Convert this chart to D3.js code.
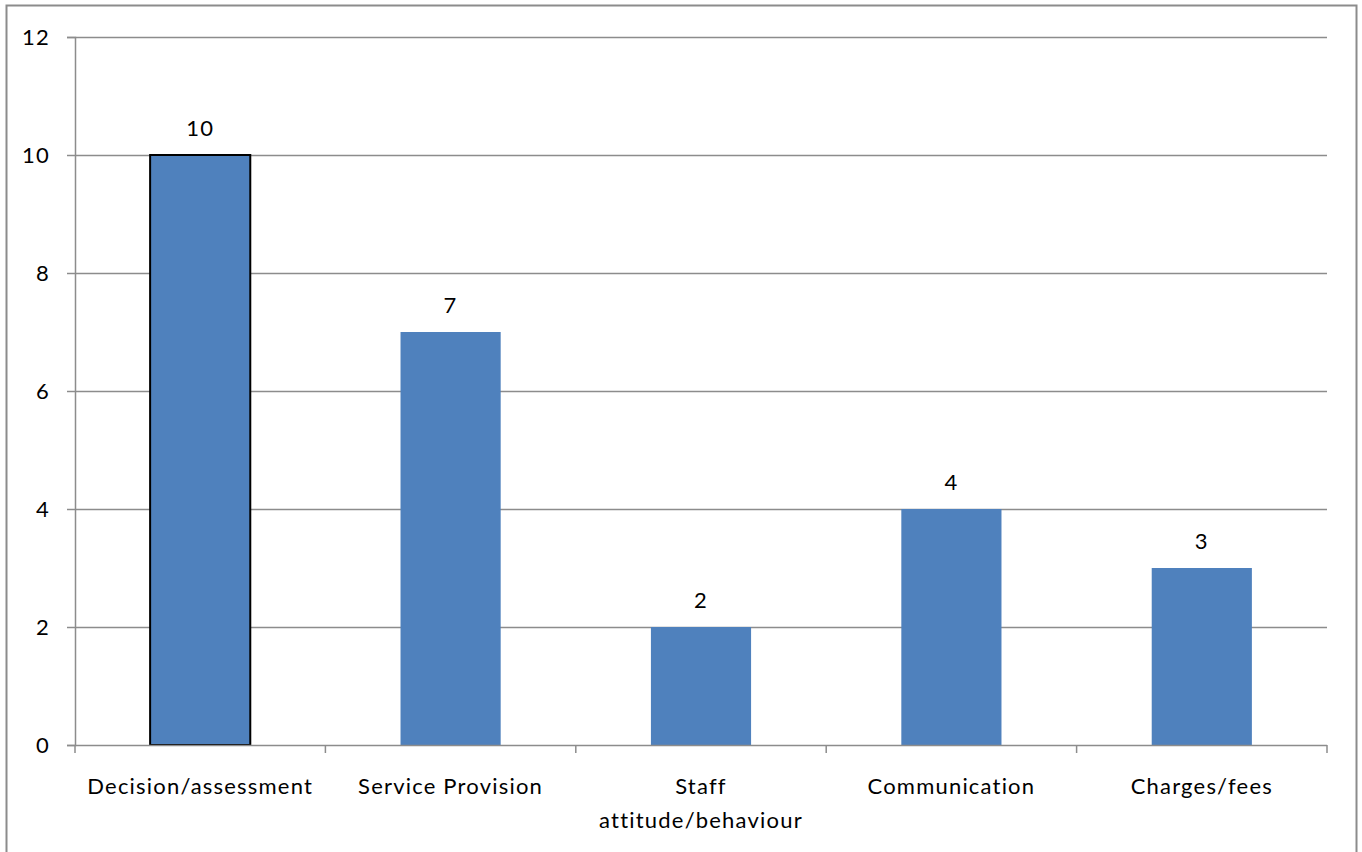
<!DOCTYPE html>
<html><head><meta charset="utf-8">
<script src="https://cdn.jsdelivr.net/npm/d3@7"></script>
<style>
html,body{margin:0;padding:0;background:#fff;overflow:hidden}
text{font-family:Lato,"Open Sans",sans-serif;fill:#000}
</style></head>
<body>
<svg id="chart" width="1362" height="852"></svg>
<script>
const categories = ["Decision/assessment", "Service Provision", "Staff attitude/behaviour", "Communication", "Charges/fees"];
const labelLines = [["Decision/assessment"], ["Service Provision"], ["Staff", "attitude/behaviour"], ["Communication"], ["Charges/fees"]];
const values = [10, 7, 2, 4, 3];
const yTicks = [0, 2, 4, 6, 8, 10, 12];

const svg = d3.select("#chart");
const m = {left: 75, right: 1327, top: 37, bottom: 745};
const FS = "22px", LS = "1.2px";

svg.append("rect").attr("x", 6.5).attr("y", 5.5).attr("width", 1350).attr("height", 900)
  .attr("fill", "#fff").attr("stroke", "#8c8c8c").attr("stroke-width", 2);

const x = d3.scaleBand().domain(categories).range([m.left, m.right]).paddingInner(0.6).paddingOuter(0.3);
const xb = d3.scaleBand().domain(categories).range([m.left, m.right]);
const y = d3.scaleLinear().domain([0, 12]).range([m.bottom, m.top]);

// gridlines
svg.append("g").selectAll("line").data(yTicks.filter(d => d > 0)).join("line")
  .attr("x1", m.left).attr("x2", m.right)
  .attr("y1", d => Math.round(y(d)) + 0.5).attr("y2", d => Math.round(y(d)) + 0.5)
  .attr("stroke", "#8c8c8c").attr("stroke-width", 1.5);

// y axis
const yAxis = svg.append("g").attr("transform", `translate(${m.left},0)`)
  .call(d3.axisLeft(y).tickValues(yTicks).tickSize(8).tickPadding(17).tickFormat(d3.format("d")));
yAxis.select(".domain").attr("stroke", "#8c8c8c").attr("stroke-width", 1.5);
yAxis.selectAll(".tick line").attr("stroke", "#8c8c8c").attr("stroke-width", 1.5);
yAxis.selectAll(".tick text").style("font-family", "Lato,sans-serif").style("font-size", FS)
  .style("letter-spacing", LS).attr("fill", "#000");

// bars
svg.append("g").selectAll("rect").data(values).join("rect")
  .attr("x", (d, i) => x(categories[i]))
  .attr("width", x.bandwidth())
  .attr("y", d => y(d))
  .attr("height", d => y(0) - y(d))
  .attr("fill", "#4F81BD")
  .attr("stroke", (d, i) => i === 0 ? "#000" : "none")
  .attr("stroke-width", 2);

// x axis
const xAxisG = svg.append("g");
xAxisG.append("line").attr("x1", m.left).attr("x2", m.right).attr("y1", m.bottom + 0.5).attr("y2", m.bottom + 0.5)
  .attr("stroke", "#8c8c8c").attr("stroke-width", 1.5);
const bounds = categories.map(c => xb(c)).concat([m.right]);
xAxisG.selectAll("line.t").data(bounds).join("line").attr("class", "t")
  .attr("x1", d => d).attr("x2", d => d).attr("y1", m.bottom).attr("y2", m.bottom + 8)
  .attr("stroke", "#8c8c8c").attr("stroke-width", 1.5);

// category labels
const lg = svg.append("g");
labelLines.forEach((lines, i) => {
  const cx = xb(categories[i]) + xb.bandwidth() / 2;
  const t = lg.append("text").attr("x", cx).attr("y", 794).attr("text-anchor", "middle")
    .style("font-size", FS).style("letter-spacing", LS);
  lines.forEach((ln, j) => t.append("tspan").attr("x", cx).attr("dy", j === 0 ? 0 : 34).text(ln));
});

// value labels
svg.append("g").selectAll("text").data(values).join("text")
  .attr("x", (d, i) => x(categories[i]) + x.bandwidth() / 2)
  .attr("y", d => y(d) - 19)
  .attr("text-anchor", "middle").style("font-size", FS).style("letter-spacing", LS)
  .text(d => d);
</script>
</body></html>
